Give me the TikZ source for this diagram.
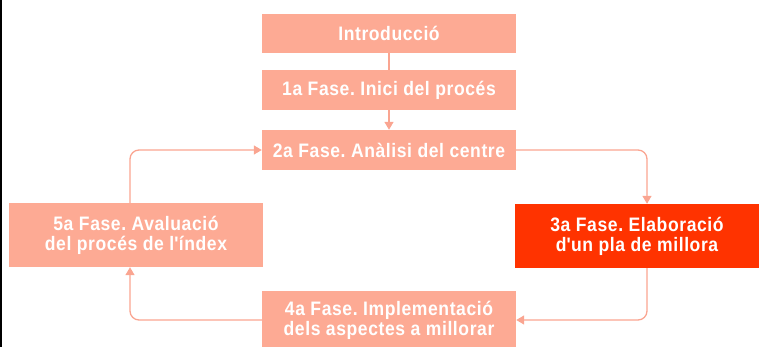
\documentclass[tikz,border=0pt]{standalone}
\usepackage{fontspec}
\setmainfont{Liberation Sans}[FakeStretch=0.9, LetterSpace=3]
\usetikzlibrary{arrows.meta}
\definecolor{salmon}{RGB}{253,170,148}
\definecolor{linksalmon}{RGB}{250,165,145}
\definecolor{phasered}{RGB}{255,51,0}
\frenchspacing

\begin{document}
\begin{tikzpicture}[x=1pt, y=-1pt,
      every node/.style = {shape=rectangle, fill=salmon, text=white,
        align=center, inner sep=0pt, minimum width=254pt,
        font=\fontsize{19.5}{20}\selectfont\bfseries},
      link/.style = {draw=linksalmon, line width=1.3pt, rounded corners=9pt,
        -{Triangle[length=8pt,width=9pt]}}]
  \useasboundingbox (0,0) rectangle (759,347);
  \fill[black] (0,0) rectangle (2,347);
  \node (intro) at (389,33.5) [minimum height=39pt] {Introducció};
  \node (fase1) at (389,90) [minimum height=40pt] {1a Fase. Inici del procés};
  \node (fase2) at (389,150) [minimum height=40pt] {2a Fase. Anàlisi del centre};
  \node (fase3) at (637,236) [minimum height=64pt, minimum width=244pt,
    fill=phasered] {3a Fase. Elaboració\\d\textquotesingle un pla de millora};
  \node (fase4) at (389,320) [minimum height=58pt]
    {4a Fase. Implementació\\dels aspectes a millorar};
  \node (fase5) at (136,235) [minimum height=64pt]
    {5a Fase. Avaluació\\del procés de l\textquotesingle índex};
  \draw[link, -] (intro) -- (fase1);
  \draw[link] (fase1) -- (fase2);
  \draw[link] (fase2.east) -| ([xshift=10pt]fase3.north);
  \draw[link] ([xshift=10pt]fase3.south) |- (fase4.east);
  \draw[link] (fase4.west) -| ([xshift=-6pt]fase5.south);
  \draw[link] ([xshift=-6pt]fase5.north) |- (fase2.west);
\end{tikzpicture}
\end{document}
